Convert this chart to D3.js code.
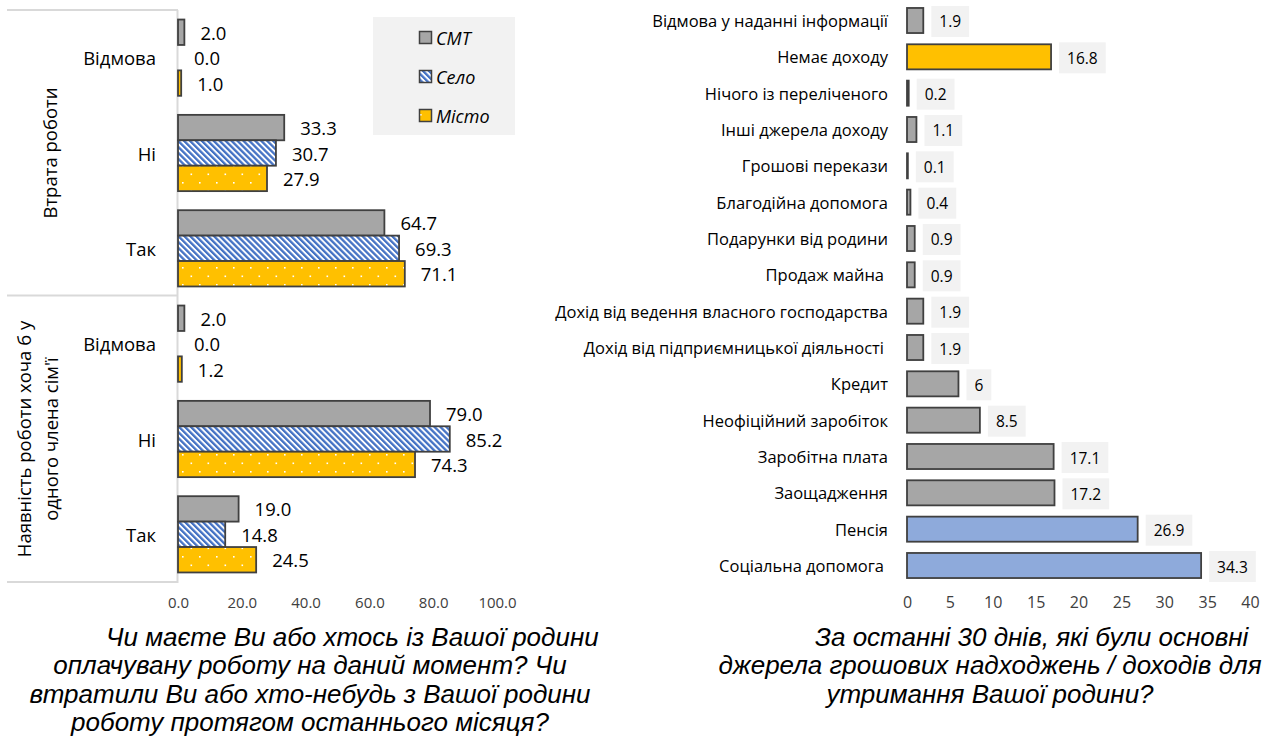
<!DOCTYPE html>
<html>
<head>
<meta charset="utf-8">
<script src="https://cdn.jsdelivr.net/npm/d3@7"></script>
<style>
  html, body { margin: 0; padding: 0; background: #fff; }
  svg { display: block; }
  text { font-family: "Open Sans", sans-serif; }
  .title { font-family: "Liberation Sans", Arial, sans-serif; font-style: italic; }
</style>
</head>
<body>
<svg id="chart" width="1278" height="745"></svg>
<script>
// ---------- DATA ----------
const leftGroups = ["Втрата роботи", "Наявність роботи хоча б у одного члена сім'ї"];
const leftCategories = ["Відмова", "Ні", "Так"];
const leftSeries = ["СМТ", "Село", "Місто"];
// "Втрата роботи"
const lossSMT   = [2.0, 33.3, 64.7];
const lossSelo  = [0.0, 30.7, 69.3];
const lossMisto = [1.0, 27.9, 71.1];
// "Наявність роботи хоча б у одного члена сім'ї"
const jobSMT   = [2.0, 79.0, 19.0];
const jobSelo  = [0.0, 85.2, 14.8];
const jobMisto = [1.2, 74.3, 24.5];
const leftTicks = [0, 20, 40, 60, 80, 100];

const rightCategories = [
  "Відмова у наданні інформації", "Немає доходу", "Нічого із переліченого",
  "Інші джерела доходу", "Грошові перекази", "Благодійна допомога",
  "Подарунки від родини", "Продаж майна", "Дохід від ведення власного господарства",
  "Дохід від підприємницької діяльності", "Кредит", "Неофіційний заробіток",
  "Заробітна плата", "Заощадження", "Пенсія", "Соціальна допомога"
];
const rightValues = [1.9, 16.8, 0.2, 1.1, 0.1, 0.4, 0.9, 0.9, 1.9, 1.9, 6, 8.5, 17.1, 17.2, 26.9, 34.3];
const rightTicks = [0, 5, 10, 15, 20, 25, 30, 35, 40];

const leftTitle = ["Чи маєте Ви або хтось із Вашої родини", "оплачувану роботу на даний момент? Чи",
                   "втратили Ви або хто-небудь з Вашої родини", "роботу протягом останнього місяця?"];
const rightTitle = ["За останні 30 днів, які були основні", "джерела грошових надходжень / доходів для",
                    "утримання Вашої родини?"];

// ---------- SETUP ----------
const svg = d3.select("#chart");
const defs = svg.append("defs");

// Село: blue diagonal stripes
const pStripe = defs.append("pattern").attr("id", "stripes")
  .attr("patternUnits", "userSpaceOnUse").attr("width", 4.2).attr("height", 4.2)
  .attr("patternTransform", "rotate(-45)");
pStripe.append("rect").attr("width", 4.2).attr("height", 4.2).attr("fill", "#ffffff");
pStripe.append("rect").attr("width", 2.3).attr("height", 4.2).attr("fill", "#4472c4");

// Місто: yellow with white dots
const pDots = defs.append("pattern").attr("id", "dots")
  .attr("patternUnits", "userSpaceOnUse").attr("width", 17).attr("height", 17);
pDots.append("rect").attr("width", 17).attr("height", 17).attr("fill", "#ffc000");
pDots.append("rect").attr("x", 3.5).attr("y", 3.5).attr("width", 1.6).attr("height", 1.6).attr("fill", "#ffffff");
pDots.append("rect").attr("x", 12).attr("y", 12).attr("width", 1.6).attr("height", 1.6).attr("fill", "#ffffff");

const seriesFill = { "СМТ": "#a6a6a6", "Село": "url(#stripes)", "Місто": "url(#dots)" };
const stroke = "#404040";

// ---------- LEFT CHART ----------
const leftData = [
  { group: leftGroups[0], series: [lossSMT, lossSelo, lossMisto] },
  { group: leftGroups[1], series: [jobSMT, jobSelo, jobMisto] }
];
const bandKeys = [];
leftData.forEach(g => leftCategories.forEach(c => bandKeys.push(g.group + "|" + c)));

const xL = d3.scaleLinear().domain([0, 100]).range([178, 497]);
const yL = d3.scaleBand().domain(bandKeys).range([10, 582]).paddingInner(0.2).paddingOuter(0.1);
const ySub = d3.scaleBand().domain(leftSeries).range([0, yL.bandwidth()]);

const bars = [];
leftData.forEach(g => {
  leftCategories.forEach((c, ci) => {
    leftSeries.forEach((s, si) => {
      bars.push({ key: g.group + "|" + c, series: s, value: g.series[si][ci] });
    });
  });
});

const gL = svg.append("g");
// category box lines
const boxLines = gL.append("g").attr("stroke", "#d9d9d9").attr("stroke-width", 2).attr("fill", "none");
[10, yL.step() * 3 + 10 - 0.5, 582].forEach(y => {
  boxLines.append("line").attr("x1", 7).attr("x2", xL(0)).attr("y1", y).attr("y2", y);
});
boxLines.append("line").attr("x1", xL(0) - 0.5).attr("x2", xL(0) - 0.5).attr("y1", 10).attr("y2", 583);

gL.selectAll("rect.bar").data(bars).join("rect")
  .attr("class", "bar")
  .attr("x", xL(0))
  .attr("y", d => yL(d.key) + ySub(d.series))
  .attr("width", d => Math.max(0, xL(d.value) - xL(0)))
  .attr("height", ySub.bandwidth())
  .attr("fill", d => seriesFill[d.series])
  .attr("stroke", stroke).attr("stroke-width", 1.8)
  .attr("display", d => d.value === 0 ? "none" : null);

gL.selectAll("text.val").data(bars).join("text")
  .attr("class", "val")
  .attr("x", d => xL(d.value) + 16)
  .attr("y", d => yL(d.key) + ySub(d.series) + ySub.bandwidth() / 2)
  .attr("dominant-baseline", "central")
  .attr("font-size", 18.5).attr("fill", "#000")
  .text(d => d.value.toFixed(1));

// category labels
gL.selectAll("text.cat").data(bandKeys).join("text")
  .attr("class", "cat")
  .attr("x", 156)
  .attr("y", d => yL(d) + yL.bandwidth() / 2)
  .attr("text-anchor", "end").attr("dominant-baseline", "central")
  .attr("font-size", 18.5).attr("fill", "#000")
  .text(d => d.split("|")[1]);

// group labels (rotated)
const grpY0 = (yL(bandKeys[0]) - yL.step() * 0.1 + yL(bandKeys[2]) + yL.bandwidth() + yL.step() * 0.1) / 2;
const grpY1 = (yL(bandKeys[3]) - yL.step() * 0.1 + yL(bandKeys[5]) + yL.bandwidth() + yL.step() * 0.1) / 2;
gL.append("text")
  .attr("transform", `translate(49,${grpY0}) rotate(-90)`)
  .attr("text-anchor", "middle").attr("dominant-baseline", "central")
  .attr("font-size", 18.5).attr("fill", "#000")
  .text(leftGroups[0]);
const g2 = gL.append("text")
  .attr("transform", `translate(23,${grpY1}) rotate(-90)`)
  .attr("text-anchor", "middle").attr("dominant-baseline", "central")
  .attr("font-size", 18.5).attr("fill", "#000");
g2.append("tspan").attr("x", 0).attr("dy", 0).text("Наявність роботи хоча б у");
g2.append("tspan").attr("x", 0).attr("dy", 27).text("одного члена сім'ї");

// x axis ticks (no line)
const axL = d3.axisBottom(xL).tickValues(leftTicks).tickFormat(d3.format(".1f")).tickSize(0).tickPadding(0);
const axLg = svg.append("g").attr("transform", "translate(0,597)").call(axL);
axLg.select(".domain").remove();
axLg.selectAll("text").attr("font-size", 15).attr("fill", "#404040").attr("font-family", "Open Sans");

// legend
const leg = svg.append("g");
leg.append("rect").attr("x", 373).attr("y", 17).attr("width", 142).attr("height", 118).attr("fill", "#f2f2f2");
leftSeries.forEach((s, i) => {
  const cy = 38 + i * 39;
  leg.append("rect").attr("x", 419.5).attr("y", cy - 6.5).attr("width", 12).attr("height", 12)
    .attr("fill", seriesFill[s]).attr("stroke", stroke).attr("stroke-width", 1.5);
  leg.append("text").attr("x", 436).attr("y", cy).attr("dominant-baseline", "central")
    .attr("font-size", 18).attr("font-style", "italic").attr("fill", "#000").text(s);
});

// ---------- RIGHT CHART ----------
const xR = d3.scaleLinear().domain([0, 40]).range([907, 1250]);
const yR = d3.scaleBand().domain(rightCategories).range([-3.3, 589.3]).paddingInner(0.31).paddingOuter(0.31);
const rightData = rightCategories.map((c, i) => ({ cat: c, value: rightValues[i] }));
const rightFill = c => c === "Немає доходу" ? "#ffc000"
  : (c === "Пенсія" || c === "Соціальна допомога") ? "#8eaadb" : "#a6a6a6";
const trailingSpace = new Set(["Дохід від підприємницької діяльності", "Соціальна допомога", "Продаж майна"]);

const gR = svg.append("g");
gR.selectAll("rect.rbar").data(rightData).join("rect")
  .attr("class", "rbar")
  .attr("x", xR(0))
  .attr("y", d => yR(d.cat))
  .attr("width", d => xR(d.value) - xR(0))
  .attr("height", yR.bandwidth())
  .attr("fill", d => rightFill(d.cat))
  .attr("stroke", stroke).attr("stroke-width", 1.8);

gR.selectAll("text.rcat").data(rightData).join("text")
  .attr("class", "rcat")
  .attr("x", d => trailingSpace.has(d.cat) ? 884 : 888)
  .attr("y", d => yR(d.cat) + yR.bandwidth() / 2)
  .attr("text-anchor", "end").attr("dominant-baseline", "central")
  .attr("font-size", 16.5).attr("fill", "#000")
  .text(d => d.cat);

const lbl = gR.selectAll("g.rlab").data(rightData).join("g").attr("class", "rlab");
lbl.append("rect").attr("class", "lbox").attr("fill", "#f2f2f2");
lbl.append("text")
  .attr("dominant-baseline", "central").attr("text-anchor", "middle")
  .attr("font-size", 15.5).attr("fill", "#000")
  .text(d => String(d.value));
lbl.each(function(d) {
  const g = d3.select(this);
  const tw = g.select("text").node().getComputedTextLength();
  const x0 = xR(d.value) + 8;
  const cy = yR(d.cat) + yR.bandwidth() / 2 + 1;
  g.select("rect").attr("x", x0).attr("y", cy - 15.5).attr("width", tw + 16).attr("height", 31);
  g.select("text").attr("x", x0 + (tw + 16) / 2).attr("y", cy);
});

const axR = d3.axisBottom(xR).tickValues(rightTicks).tickFormat(d3.format("d")).tickSize(0).tickPadding(0);
const axRg = svg.append("g").attr("transform", "translate(0,597)").call(axR);
axRg.select(".domain").remove();
axRg.selectAll("text").attr("font-size", 16).attr("fill", "#404040").attr("font-family", "Open Sans");

// ---------- TITLES ----------
const lineH = 28.3;
const tL = svg.append("text").attr("class", "title").attr("font-size", 26).attr("fill", "#000");
leftTitle.forEach((t, i) => {
  tL.append("tspan").attr("x", i === 0 ? 106 : 310).attr("y", 646 + i * lineH)
    .attr("text-anchor", i === 0 ? "start" : "middle").text(t);
});
const tR = svg.append("text").attr("class", "title").attr("font-size", 26).attr("fill", "#000");
rightTitle.forEach((t, i) => {
  tR.append("tspan").attr("x", i === 0 ? 815 : 990).attr("y", 646 + i * lineH)
    .attr("text-anchor", i === 0 ? "start" : "middle").text(t);
});
</script>
</body>
</html>
